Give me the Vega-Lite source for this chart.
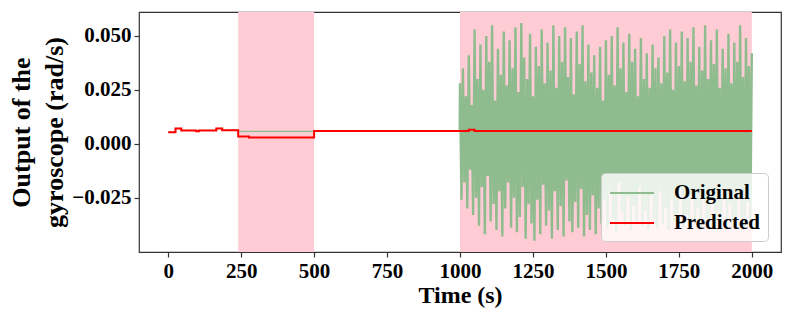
{
  "$schema": "https://vega.github.io/schema/vega-lite/v6.json",
  "autosize": "none",
  "width": 642,
  "height": 240,
  "padding": {"left": 139, "top": 12, "right": 12, "bottom": 65},
  "config": {
    "view": {"stroke": "#333", "strokeWidth": 1.2},
    "font": "Liberation Serif",
    "axis": {
      "labelFont": "Liberation Serif", "labelFontWeight": "bold", "labelFontSize": 21, "labelColor": "black",
      "titleFont": "Liberation Serif", "titleFontWeight": "bold", "titleFontSize": 24, "titleColor": "black",
      "grid": false, "domain": false, "tickColor": "#333", "tickSize": 5, "tickWidth": 1.2
    },
    "legend": {"labelFont": "Liberation Serif", "labelFontWeight": "bold", "labelFontSize": 21, "labelColor": "black"}
  },
  "datasets": {
    "regions": [{"start": 240, "end": 500}, {"start": 1000, "end": 2000}],
    "lines": [
      {"t":0,"v":0.0053,"s":"Original"},{"t":25,"v":0.0071,"s":"Original"},{"t":45,"v":0.0062,"s":"Original"},{"t":95,"v":0.0058,"s":"Original"},{"t":105,"v":0.0062,"s":"Original"},{"t":165,"v":0.0071,"s":"Original"},{"t":185,"v":0.0063,"s":"Original"},{"t":240,"v":0.0057,"s":"Original"},{"t":999,"v":0.0057,"s":"Original"},
      {"t":1000,"v":0.028,"s":"Original"},{"t":1005,"v":-0.026,"s":"Original"},{"t":1010,"v":0.035,"s":"Original"},{"t":1015,"v":-0.018,"s":"Original"},{"t":1020,"v":0.022,"s":"Original"},{"t":1025,"v":-0.030,"s":"Original"},{"t":1030,"v":0.041,"s":"Original"},{"t":1035,"v":-0.012,"s":"Original"},{"t":1040,"v":0.018,"s":"Original"},{"t":1045,"v":-0.033,"s":"Original"},
      {"t":1050,"v":0.053,"s":"Original"},{"t":1055,"v":-0.025,"s":"Original"},{"t":1060,"v":0.030,"s":"Original"},{"t":1065,"v":-0.038,"s":"Original"},{"t":1070,"v":0.046,"s":"Original"},{"t":1075,"v":-0.020,"s":"Original"},{"t":1080,"v":0.025,"s":"Original"},{"t":1085,"v":-0.042,"s":"Original"},{"t":1090,"v":0.050,"s":"Original"},{"t":1095,"v":-0.015,"s":"Original"},
      {"t":1100,"v":0.038,"s":"Original"},{"t":1105,"v":-0.036,"s":"Original"},{"t":1110,"v":0.055,"s":"Original"},{"t":1115,"v":-0.028,"s":"Original"},{"t":1120,"v":0.020,"s":"Original"},{"t":1125,"v":-0.040,"s":"Original"},{"t":1130,"v":0.044,"s":"Original"},{"t":1135,"v":-0.022,"s":"Original"},{"t":1140,"v":0.032,"s":"Original"},{"t":1145,"v":-0.043,"s":"Original"},
      {"t":1150,"v":0.052,"s":"Original"},{"t":1155,"v":-0.030,"s":"Original"},{"t":1160,"v":0.027,"s":"Original"},{"t":1165,"v":-0.018,"s":"Original"},{"t":1170,"v":0.048,"s":"Original"},{"t":1175,"v":-0.039,"s":"Original"},{"t":1180,"v":0.035,"s":"Original"},{"t":1185,"v":-0.025,"s":"Original"},{"t":1190,"v":0.054,"s":"Original"},{"t":1195,"v":-0.041,"s":"Original"},
      {"t":1200,"v":0.024,"s":"Original"},{"t":1205,"v":-0.034,"s":"Original"},{"t":1210,"v":0.056,"s":"Original"},{"t":1215,"v":-0.020,"s":"Original"},{"t":1220,"v":0.040,"s":"Original"},{"t":1225,"v":-0.044,"s":"Original"},{"t":1230,"v":0.030,"s":"Original"},{"t":1235,"v":-0.028,"s":"Original"},{"t":1240,"v":0.051,"s":"Original"},{"t":1245,"v":-0.037,"s":"Original"},
      {"t":1250,"v":0.022,"s":"Original"},{"t":1255,"v":-0.045,"s":"Original"},{"t":1260,"v":0.045,"s":"Original"},{"t":1265,"v":-0.026,"s":"Original"},{"t":1270,"v":0.036,"s":"Original"},{"t":1275,"v":-0.042,"s":"Original"},{"t":1280,"v":0.053,"s":"Original"},{"t":1285,"v":-0.019,"s":"Original"},{"t":1290,"v":0.028,"s":"Original"},{"t":1295,"v":-0.038,"s":"Original"},
      {"t":1300,"v":0.047,"s":"Original"},{"t":1305,"v":-0.031,"s":"Original"},{"t":1310,"v":0.034,"s":"Original"},{"t":1315,"v":-0.044,"s":"Original"},{"t":1320,"v":0.055,"s":"Original"},{"t":1325,"v":-0.022,"s":"Original"},{"t":1330,"v":0.026,"s":"Original"},{"t":1335,"v":-0.040,"s":"Original"},{"t":1340,"v":0.050,"s":"Original"},{"t":1345,"v":-0.029,"s":"Original"},
      {"t":1350,"v":0.038,"s":"Original"},{"t":1355,"v":-0.043,"s":"Original"},{"t":1360,"v":0.054,"s":"Original"},{"t":1365,"v":-0.017,"s":"Original"},{"t":1370,"v":0.031,"s":"Original"},{"t":1375,"v":-0.036,"s":"Original"},{"t":1380,"v":0.049,"s":"Original"},{"t":1385,"v":-0.041,"s":"Original"},{"t":1390,"v":0.023,"s":"Original"},{"t":1395,"v":-0.027,"s":"Original"},
      {"t":1400,"v":0.052,"s":"Original"},{"t":1405,"v":-0.039,"s":"Original"},{"t":1410,"v":0.037,"s":"Original"},{"t":1415,"v":-0.021,"s":"Original"},{"t":1420,"v":0.055,"s":"Original"},{"t":1425,"v":-0.043,"s":"Original"},{"t":1430,"v":0.029,"s":"Original"},{"t":1435,"v":-0.033,"s":"Original"},{"t":1440,"v":0.046,"s":"Original"},{"t":1445,"v":-0.040,"s":"Original"},
      {"t":1450,"v":0.033,"s":"Original"},{"t":1455,"v":-0.024,"s":"Original"},{"t":1460,"v":0.041,"s":"Original"},{"t":1465,"v":-0.042,"s":"Original"},{"t":1470,"v":0.026,"s":"Original"},{"t":1475,"v":-0.030,"s":"Original"},{"t":1480,"v":0.045,"s":"Original"},{"t":1485,"v":-0.037,"s":"Original"},{"t":1490,"v":0.020,"s":"Original"},{"t":1495,"v":-0.026,"s":"Original"},
      {"t":1500,"v":0.048,"s":"Original"},{"t":1505,"v":-0.039,"s":"Original"},{"t":1510,"v":0.032,"s":"Original"},{"t":1515,"v":-0.022,"s":"Original"},{"t":1520,"v":0.050,"s":"Original"},{"t":1525,"v":-0.035,"s":"Original"},{"t":1530,"v":0.027,"s":"Original"},{"t":1535,"v":-0.041,"s":"Original"},{"t":1540,"v":0.054,"s":"Original"},{"t":1545,"v":-0.018,"s":"Original"},
      {"t":1550,"v":0.035,"s":"Original"},{"t":1555,"v":-0.032,"s":"Original"},{"t":1560,"v":0.047,"s":"Original"},{"t":1565,"v":-0.038,"s":"Original"},{"t":1570,"v":0.024,"s":"Original"},{"t":1575,"v":-0.025,"s":"Original"},{"t":1580,"v":0.051,"s":"Original"},{"t":1585,"v":-0.040,"s":"Original"},{"t":1590,"v":0.038,"s":"Original"},{"t":1595,"v":-0.029,"s":"Original"},
      {"t":1600,"v":0.044,"s":"Original"},{"t":1605,"v":-0.036,"s":"Original"},{"t":1610,"v":0.022,"s":"Original"},{"t":1615,"v":-0.020,"s":"Original"},{"t":1620,"v":0.049,"s":"Original"},{"t":1625,"v":-0.038,"s":"Original"},{"t":1630,"v":0.030,"s":"Original"},{"t":1635,"v":-0.031,"s":"Original"},{"t":1640,"v":0.042,"s":"Original"},{"t":1645,"v":-0.040,"s":"Original"},
      {"t":1650,"v":0.026,"s":"Original"},{"t":1655,"v":-0.024,"s":"Original"},{"t":1660,"v":0.046,"s":"Original"},{"t":1665,"v":-0.035,"s":"Original"},{"t":1670,"v":0.035,"s":"Original"},{"t":1675,"v":-0.039,"s":"Original"},{"t":1680,"v":0.040,"s":"Original"},{"t":1685,"v":-0.022,"s":"Original"},{"t":1690,"v":0.028,"s":"Original"},{"t":1695,"v":-0.037,"s":"Original"},
      {"t":1700,"v":0.050,"s":"Original"},{"t":1705,"v":-0.030,"s":"Original"},{"t":1710,"v":0.033,"s":"Original"},{"t":1715,"v":-0.040,"s":"Original"},{"t":1720,"v":0.053,"s":"Original"},{"t":1725,"v":-0.026,"s":"Original"},{"t":1730,"v":0.025,"s":"Original"},{"t":1735,"v":-0.036,"s":"Original"},{"t":1740,"v":0.047,"s":"Original"},{"t":1745,"v":-0.038,"s":"Original"},
      {"t":1750,"v":0.036,"s":"Original"},{"t":1755,"v":-0.021,"s":"Original"},{"t":1760,"v":0.052,"s":"Original"},{"t":1765,"v":-0.039,"s":"Original"},{"t":1770,"v":0.029,"s":"Original"},{"t":1775,"v":-0.033,"s":"Original"},{"t":1780,"v":0.049,"s":"Original"},{"t":1785,"v":-0.040,"s":"Original"},{"t":1790,"v":0.038,"s":"Original"},{"t":1795,"v":-0.024,"s":"Original"},
      {"t":1800,"v":0.054,"s":"Original"},{"t":1805,"v":-0.037,"s":"Original"},{"t":1810,"v":0.027,"s":"Original"},{"t":1815,"v":-0.030,"s":"Original"},{"t":1820,"v":0.045,"s":"Original"},{"t":1825,"v":-0.040,"s":"Original"},{"t":1830,"v":0.034,"s":"Original"},{"t":1835,"v":-0.022,"s":"Original"},{"t":1840,"v":0.055,"s":"Original"},{"t":1845,"v":-0.038,"s":"Original"},
      {"t":1850,"v":0.030,"s":"Original"},{"t":1855,"v":-0.035,"s":"Original"},{"t":1860,"v":0.048,"s":"Original"},{"t":1865,"v":-0.026,"s":"Original"},{"t":1870,"v":0.037,"s":"Original"},{"t":1875,"v":-0.039,"s":"Original"},{"t":1880,"v":0.053,"s":"Original"},{"t":1885,"v":-0.031,"s":"Original"},{"t":1890,"v":0.026,"s":"Original"},{"t":1895,"v":-0.037,"s":"Original"},
      {"t":1900,"v":0.044,"s":"Original"},{"t":1905,"v":-0.023,"s":"Original"},{"t":1910,"v":0.035,"s":"Original"},{"t":1915,"v":-0.040,"s":"Original"},{"t":1920,"v":0.051,"s":"Original"},{"t":1925,"v":-0.028,"s":"Original"},{"t":1930,"v":0.028,"s":"Original"},{"t":1935,"v":-0.036,"s":"Original"},{"t":1940,"v":0.047,"s":"Original"},{"t":1945,"v":-0.039,"s":"Original"},
      {"t":1950,"v":0.038,"s":"Original"},{"t":1955,"v":-0.025,"s":"Original"},{"t":1960,"v":0.055,"s":"Original"},{"t":1965,"v":-0.034,"s":"Original"},{"t":1970,"v":0.031,"s":"Original"},{"t":1975,"v":-0.040,"s":"Original"},{"t":1980,"v":0.049,"s":"Original"},{"t":1985,"v":-0.027,"s":"Original"},{"t":1990,"v":0.036,"s":"Original"},{"t":1995,"v":-0.038,"s":"Original"},
      {"t":2000,"v":0.042,"s":"Original"},
      {"t":0,"v":0.0053,"s":"Predicted"},{"t":25,"v":0.0071,"s":"Predicted"},{"t":45,"v":0.0062,"s":"Predicted"},{"t":95,"v":0.0058,"s":"Predicted"},{"t":105,"v":0.0062,"s":"Predicted"},{"t":165,"v":0.0071,"s":"Predicted"},{"t":185,"v":0.0063,"s":"Predicted"},{"t":240,"v":0.0034,"s":"Predicted"},{"t":277,"v":0.0029,"s":"Predicted"},{"t":500,"v":0.0059,"s":"Predicted"},{"t":1030,"v":0.0065,"s":"Predicted"},{"t":1050,"v":0.0059,"s":"Predicted"},{"t":2000,"v":0.0059,"s":"Predicted"}
    ]
  },
  "layer": [
    {
      "data": {"name": "regions"},
      "mark": {"type": "rect", "color": "#FFCCD5"},
      "encoding": {
        "x": {"field": "start", "type": "quantitative", "scale": {"domain": [-100, 2100], "nice": false, "zero": false}},
        "x2": {"field": "end"}
      }
    },
    {
      "data": {"name": "lines"},
      "transform": [{"filter": "datum.s == 'Original' && datum.t < 1000"}],
      "mark": {"type": "line", "interpolate": "step-after", "strokeWidth": 1.3},
      "encoding": {
        "x": {"field": "t", "type": "quantitative"},
        "y": {"field": "v", "type": "quantitative"},
        "color": {"field": "s", "type": "nominal"}
      }
    },
    {
      "data": {"name": "lines"},
      "transform": [{"filter": "datum.s == 'Original' && datum.t >= 999"}],
      "mark": {"type": "line", "interpolate": "linear", "strokeWidth": 2.4, "strokeJoin": "miter", "strokeMiterLimit": 3},
      "encoding": {
        "x": {"field": "t", "type": "quantitative"},
        "y": {"field": "v", "type": "quantitative"},
        "color": {"field": "s", "type": "nominal"}
      }
    },
    {
      "data": {"name": "lines"},
      "transform": [{"filter": "datum.s == 'Predicted'"}],
      "mark": {"type": "line", "interpolate": "step-after", "strokeWidth": 2},
      "encoding": {
        "x": {"field": "t", "type": "quantitative",
          "scale": {"domain": [-100, 2100], "nice": false, "zero": false},
          "axis": {"title": "Time (s)", "values": [0, 250, 500, 750, 1000, 1250, 1500, 1750, 2000], "format": "d", "labelPadding": 3, "titlePadding": 2}},
        "y": {"field": "v", "type": "quantitative",
          "scale": {"domain": [-0.0502, 0.0611], "nice": false, "zero": false},
          "axis": {"title": ["Output of the", "gyroscope (rad/s)"], "titleFontSize": 26, "values": [-0.025, 0, 0.025, 0.05], "format": ".3f", "labelPadding": 3, "titlePadding": 4, "titleLineHeight": 33}},
        "color": {"field": "s", "type": "nominal",
          "scale": {"domain": ["Original", "Predicted"], "range": ["#8FBC8F", "#FF0000"]},
          "legend": {"title": null, "orient": "none", "legendX": 462, "legendY": 161,
            "symbolType": "M-1,0H3", "symbolSize": 484, "symbolStrokeWidth": 2,
            "labelOffset": 41, "rowPadding": 8, "padding": 8,
            "fillColor": "rgba(255,255,255,0.8)", "strokeColor": "#cccccc", "cornerRadius": 4}}
      }
    }
  ]
}
